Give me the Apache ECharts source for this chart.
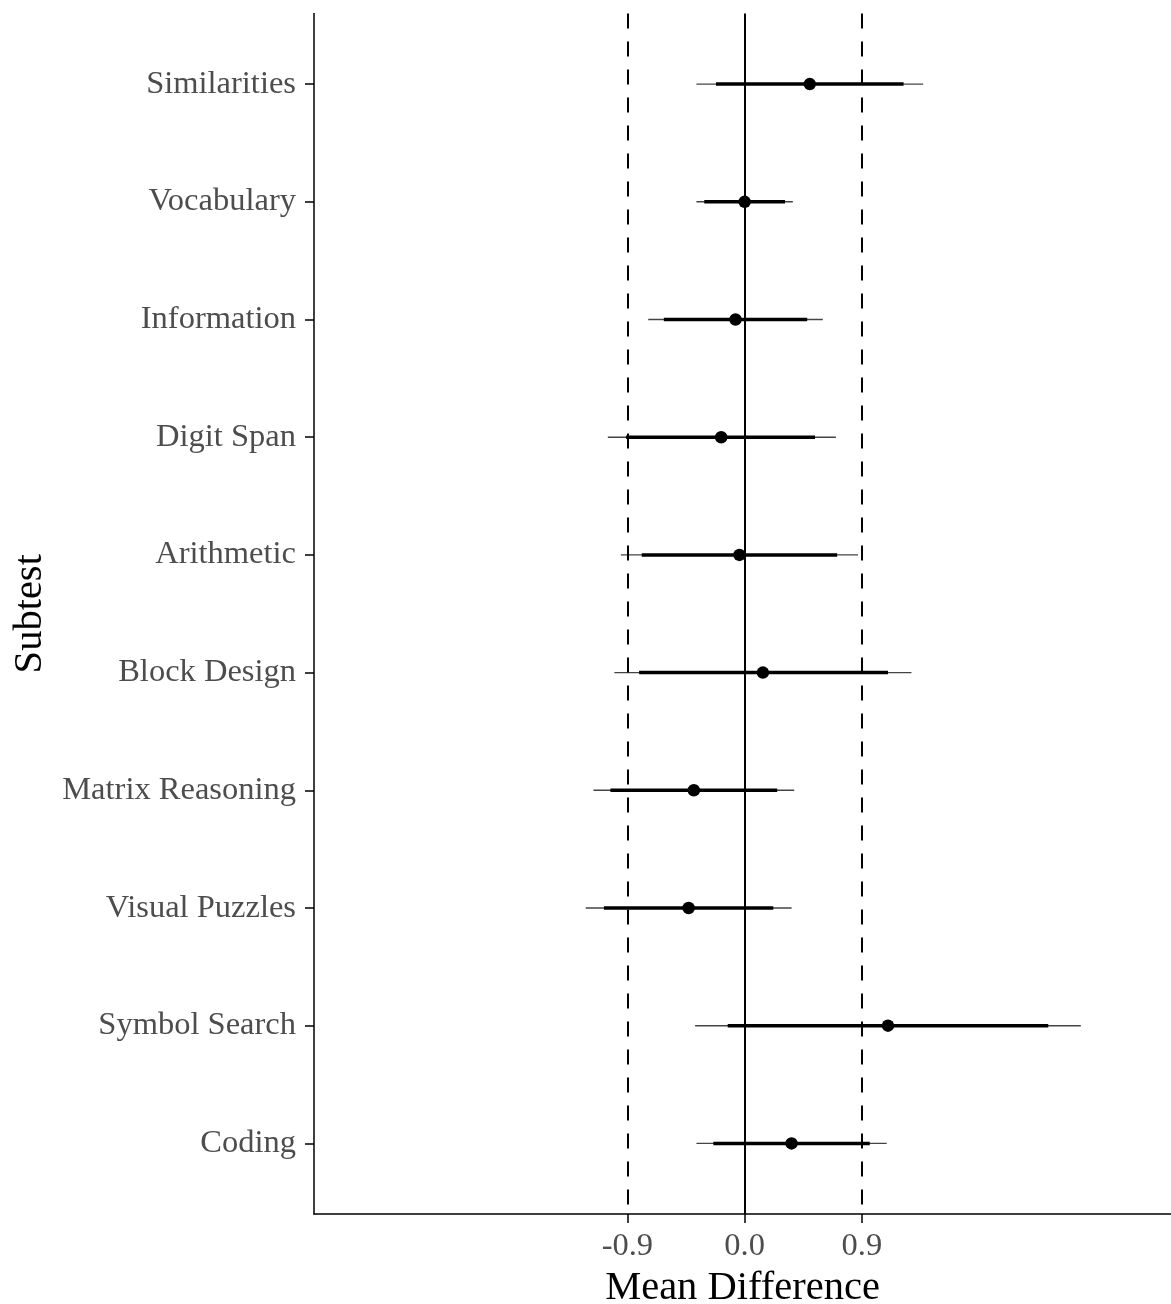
<!DOCTYPE html>
<html>
<head>
<meta charset="utf-8">
<script src="https://cdn.jsdelivr.net/npm/echarts@6/dist/echarts.min.js"></script>
<style>
html,body{margin:0;padding:0;background:#fff;}
#chart{width:1171px;height:1304px;}
</style>
</head>
<body>
<div id="chart"></div>
<script>
var categories = ['Similarities','Vocabulary','Information','Digit Span','Arithmetic','Block Design','Matrix Reasoning','Visual Puzzles','Symbol Search','Coding'];
var estimate = [0.50, 0.00, -0.07, -0.18, -0.04, 0.14, -0.39, -0.43, 1.10, 0.36];
var lowerOuter = [-0.37, -0.37, -0.74, -1.05, -0.95, -1.00, -1.16, -1.22, -0.38, -0.37];
var upperOuter = [1.37, 0.37, 0.60, 0.70, 0.87, 1.28, 0.38, 0.36, 2.58, 1.09];
var lowerInner = [-0.22, -0.31, -0.62, -0.91, -0.79, -0.81, -1.03, -1.08, -0.13, -0.24];
var upperInner = [1.22, 0.31, 0.48, 0.54, 0.71, 1.10, 0.25, 0.22, 2.33, 0.96];
var xTicks = [-0.9, 0.0, 0.9];
var refLines = [-0.9, 0.9];

var FONT = '"Liberation Serif", "DejaVu Serif", serif';
var chart = echarts.init(document.getElementById('chart'), null, {renderer: 'canvas'});

function intervalSeries(lo, hi, width, color, z) {
  return {
    type: 'custom',
    z: z,
    silent: true,
    data: categories.map(function (c, i) { return [lo[i], hi[i], i]; }),
    encode: {x: [0, 1], y: 2},
    renderItem: function (params, api) {
      var a = api.coord([api.value(0), api.value(2)]);
      var b = api.coord([api.value(1), api.value(2)]);
      return {
        type: 'line',
        shape: {x1: a[0], y1: a[1], x2: b[0], y2: b[1]},
        style: {stroke: color, lineWidth: width, lineCap: 'butt'}
      };
    }
  };
}

var yIdx = categories.map(function (c, i) { return i; });

var option = {
  backgroundColor: '#ffffff',
  animation: false,
  grid: {left: 314, right: 0, top: 13.5, bottom: 90, containLabel: false, outerBoundsMode: 'none'},
  xAxis: {
    type: 'value',
    min: -3.305,
    max: 3.272,
    name: 'Mean Difference',
    nameLocation: 'middle',
    nameGap: 52,
    nameTextStyle: {fontFamily: FONT, fontSize: 40.5, color: '#000'},
    axisLine: {show: true, onZero: false, lineStyle: {color: '#000', width: 1.5}},
    axisTick: {show: true, length: 9, customValues: xTicks, lineStyle: {color: '#000', width: 1.5}},
    axisLabel: {
      customValues: xTicks,
      margin: 16,
      fontFamily: FONT, fontSize: 32.5, color: '#4D4D4D',
      formatter: function (v) { return v.toFixed(1); }
    },
    splitLine: {show: false}
  },
  yAxis: {
    type: 'value',
    inverse: true,
    min: -0.6,
    max: 9.6,
    name: 'Subtest',
    nameLocation: 'middle',
    nameGap: 262,
    nameRotate: 90,
    nameTextStyle: {fontFamily: FONT, fontSize: 40.5, color: '#000'},
    axisLine: {show: true, onZero: false, lineStyle: {color: '#000', width: 1.5}},
    axisTick: {show: true, length: 9, customValues: yIdx, lineStyle: {color: '#000', width: 1.5}},
    axisLabel: {
      customValues: yIdx,
      margin: 18,
      padding: [5, 0, 0, 0],
      fontFamily: FONT, fontSize: 32.5, color: '#4D4D4D',
      formatter: function (v) { return categories[Math.round(v)]; }
    },
    splitLine: {show: false}
  },
  series: [
    {
      type: 'line',
      data: [],
      silent: true,
      markLine: {
        silent: true,
        symbol: 'none',
        label: {show: false},
        lineStyle: {color: '#000', width: 2, type: 'solid'},
        data: [{xAxis: 0}]
      }
    },
    {
      type: 'line',
      data: [],
      silent: true,
      markLine: {
        silent: true,
        symbol: 'none',
        label: {show: false},
        lineStyle: {color: '#000', width: 2, type: [15, 13]},
        data: refLines.map(function (v) { return {xAxis: v}; })
      }
    },
    intervalSeries(lowerOuter, upperOuter, 1.4, '#444', 3),
    intervalSeries(lowerInner, upperInner, 3.5, '#000', 4),
    {
      type: 'scatter',
      z: 5,
      symbol: 'circle',
      symbolSize: 12.5,
      itemStyle: {color: '#000', opacity: 1},
      data: categories.map(function (c, i) { return [estimate[i], i]; })
    }
  ]
};
chart.setOption(option);
</script>
</body>
</html>
